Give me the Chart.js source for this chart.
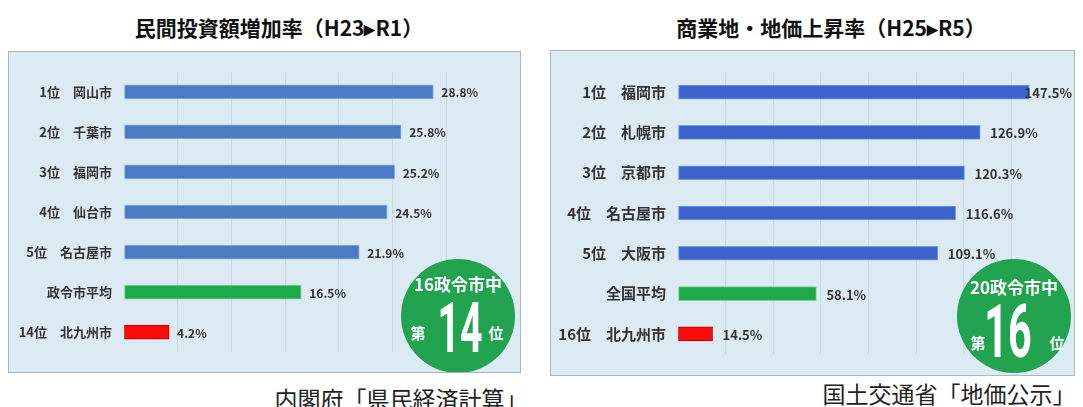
<!DOCTYPE html>
<html lang="ja">
<head>
<meta charset="utf-8">
<script src="https://cdn.jsdelivr.net/npm/chart.js@4/dist/chart.umd.min.js"></script>
<style>
  html, body { margin: 0; padding: 0; background: #fff; }
  #wrap { position: relative; width: 1083px; height: 407px; overflow: hidden; font-family: "Noto Sans CJK JP", sans-serif; }
  .title { position: absolute; transform: translate(-50%, -50%); white-space: nowrap; font-size: 21px; font-weight: bold; color: #111; }
  .source { position: absolute; transform: translate(-50%, -50%); white-space: nowrap; font-size: 23px; color: #222; }
  .box { position: absolute; border: 1px solid #a7b7c2; background: #dceaf3; }
  .box canvas { display: block; }
</style>
</head>
<body>
<div id="wrap">
  <div class="title" style="left:279px;top:27px">民間投資額増加率（H23▸R1）</div>
  <div class="title" style="left:831px;top:27px">商業地・地価上昇率（H25▸R5）</div>
  <div class="box" style="left:8px;top:51px;width:511px;height:320px"><canvas id="left_chart" width="511" height="320"></canvas></div>
  <div class="box" style="left:550px;top:50px;width:523px;height:324px"><canvas id="right_chart" width="523" height="324"></canvas></div>
  <div class="source" style="left:401px;top:398px">内閣府「県民経済計算」</div>
  <div class="source" style="left:949px;top:393px">国土交通省「地価公示」</div>
</div>
<script>
"use strict";

// 民間投資額増加率（H23▸R1）
const left_labels = ["1位　岡山市", "2位　千葉市", "3位　福岡市", "4位　仙台市", "5位　名古屋市", "政令市平均", "14位　北九州市"];
const left_values = [28.8, 25.8, 25.2, 24.5, 21.9, 16.5, 4.2];

// 商業地・地価上昇率（H25▸R5）
const right_labels = ["1位　福岡市", "2位　札幌市", "3位　京都市", "4位　名古屋市", "5位　大阪市", "全国平均", "16位　北九州市"];
const right_values = [147.5, 126.9, 120.3, 116.6, 109.1, 58.1, 14.5];

const FONT = "'Noto Sans CJK JP'";

// 値ラベル
const value_labels = {
  id: "value_labels",
  afterDatasetsDraw(chart, args, opts) {
    const ctx = chart.ctx;
    const meta = chart.getDatasetMeta(0);
    const data = chart.data.datasets[0].data;
    ctx.save();
    ctx.font = `bold ${opts.size}px ${FONT}`;
    ctx.fillStyle = "#333";
    ctx.textBaseline = "middle";
    ctx.textAlign = "left";
    meta.data.forEach((bar, i) => {
      const text = data[i].toFixed(1) + "%";
      const w = ctx.measureText(text).width;
      const x = Math.min(bar.x + opts.gap, chart.width - 2 - w);
      ctx.fillText(text, x, bar.y + 1);
    });
    ctx.restore();
  },
};

// 緑の丸
const badge = {
  id: "badge",
  afterDraw(chart, args, o) {
    const ctx = chart.ctx;
    ctx.save();
    ctx.beginPath();
    ctx.arc(o.cx, o.cy, o.r, 0, Math.PI * 2);
    ctx.fillStyle = "#21a350";
    ctx.fill();
    ctx.fillStyle = "#fff";
    ctx.textAlign = "center";
    ctx.textBaseline = "middle";
    ctx.font = `bold 17px ${FONT}`;
    ctx.fillText(o.head, o.cx, o.head_y);
    ctx.font = `bold 15px ${FONT}`;
    ctx.fillText("第", o.dai_x, o.side_y);
    ctx.fillText("位", o.i_x, o.side_y);
    ctx.translate(o.num_x, o.num_base);
    ctx.scale(0.56, 1);
    ctx.textBaseline = "alphabetic";
    ctx.font = `bold ${o.num_size}px Roboto`;
    ctx.fillText(o.num, 0, 0);
    ctx.restore();
  },
};

function make_chart(id, labels, values, colors, borders, cfg) {
  return new Chart(document.getElementById(id), {
    type: "bar",
    data: {
      labels: labels,
      datasets: [{
        data: values,
        backgroundColor: colors,
        borderColor: borders,
        borderWidth: 1,
        borderSkipped: false,
        barThickness: 14,
      }],
    },
    options: {
      indexAxis: "y",
      responsive: false,
      animation: false,
      devicePixelRatio: 1,
      layout: { padding: cfg.padding },
      scales: {
        x: {
          min: 0,
          max: cfg.max,
          ticks: { display: false, stepSize: cfg.step },
          border: { display: false },
          grid: {
            drawTicks: false,
            color: (c) => (c.tick && c.tick.value > 0 && c.tick.value % cfg.step === 0 ? "#c9dae5" : "transparent"),
          },
        },
        y: {
          grid: { display: false, drawTicks: false },
          border: { display: false },
          ticks: {
            padding: cfg.tick_pad,
            color: "#333",
            font: { family: FONT, size: cfg.label_size, weight: "bold" },
          },
          afterFit: (scale) => { scale.width = cfg.axis_width; },
        },
      },
      plugins: {
        legend: { display: false },
        tooltip: { enabled: false },
        value_labels: { gap: cfg.gap, size: cfg.value_size },
        badge: cfg.badge,
      },
    },
    plugins: [value_labels, badge],
  });
}

const blue_l = "#4a7bc4", green = "#1daa4a", red = "#ff0a0a";

make_chart("left_chart", left_labels, left_values,
  [blue_l, blue_l, blue_l, blue_l, blue_l, green, red],
  ["#8fb1dc", "#8fb1dc", "#8fb1dc", "#8fb1dc", "#8fb1dc", "#7fcf98", "#b00000"],
  {
    padding: { top: 15, bottom: 14, right: 5, left: 0 },
    max: 36.4, step: 5, tick_pad: 12, axis_width: 115,
    label_size: 13, value_size: 12, gap: 8,
    badge: { cx: 449, cy: 264, r: 57, head: "16政令市中", head_y: 233, side_y: 281, dai_x: 409, i_x: 487, num: "14", num_x: 451, num_base: 300, num_size: 70 },
  });

const blue_r = "#3b63cb";
make_chart("right_chart", right_labels, right_values,
  [blue_r, blue_r, blue_r, blue_r, blue_r, green, red],
  ["#7f9fe0", "#7f9fe0", "#7f9fe0", "#7f9fe0", "#7f9fe0", "#7fcf98", "#b00000"],
  {
    padding: { top: 16, bottom: 17, right: 3, left: 0 },
    max: 165, step: 20, tick_pad: 12, axis_width: 127,
    label_size: 15, value_size: 13, gap: 10,
    badge: { cx: 463, cy: 265, r: 57, head: "20政令市中", head_y: 237, side_y: 292, dai_x: 427, i_x: 506, num: "16", num_x: 457, num_base: 306, num_size: 74 },
  });
</script>
</body>
</html>
